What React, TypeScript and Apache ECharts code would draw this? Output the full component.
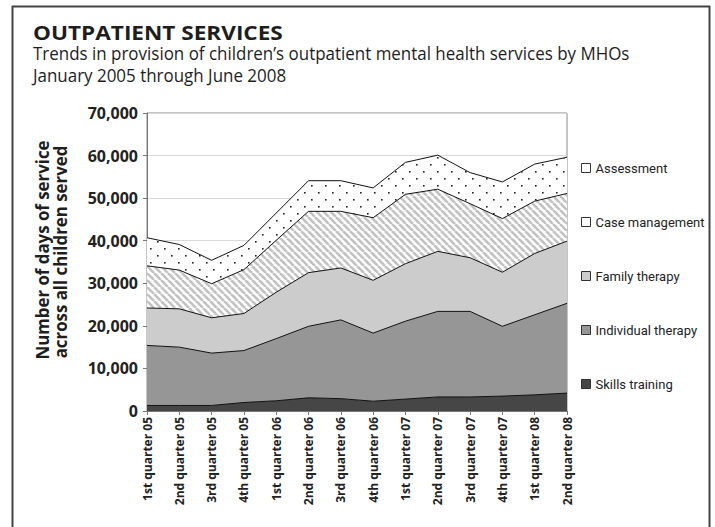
import React, { useEffect, useRef } from "react";
import * as echarts from "echarts";

const categories = [
  "1st quarter 05", "2nd quarter 05", "3rd quarter 05", "4th quarter 05",
  "1st quarter 06", "2nd quarter 06", "3rd quarter 06", "4th quarter 06",
  "1st quarter 07", "2nd quarter 07", "3rd quarter 07", "4th quarter 07",
  "1st quarter 08", "2nd quarter 08",
];
const skillsTraining = [1300, 1300, 1300, 2000, 2400, 3100, 2900, 2300, 2800, 3300, 3300, 3500, 3800, 4200];
const individualTherapy = [14100, 13700, 12300, 12200, 14600, 16800, 18500, 16000, 18300, 20100, 20100, 16400, 18800, 21100];
const familyTherapy = [8800, 9000, 8300, 8700, 10900, 12600, 12200, 12400, 13500, 14100, 12600, 12700, 14400, 14600];
const caseManagement = [9900, 9100, 8000, 10300, 12200, 14400, 13300, 14700, 16300, 14600, 12700, 12600, 12300, 11200];
const assessment = [6600, 6000, 5500, 5700, 6400, 7200, 7200, 7000, 7500, 8000, 7300, 8600, 8700, 8500];
const yTicks = { min: 0, max: 70000, interval: 10000 };

const TITLE = "OUTPATIENT SERVICES";
const SUB1 = "Trends in provision of children\u2019s outpatient mental health services by MHOs";
const SUB2 = "January 2005 through June 2008";
const YNAME1 = "Number of days of service";
const YNAME2 = "across all children served";

const FONT = '"Open Sans", "Noto Sans", sans-serif';

function measure(text: string, font: string): number {
  const c = document.createElement("canvas");
  const ctx = c.getContext("2d")!;
  ctx.font = font;
  return ctx.measureText(text).width;
}

function stripePattern() {
  const s = 7;
  const c = document.createElement("canvas");
  c.width = s;
  c.height = s;
  const ctx = c.getContext("2d")!;
  ctx.fillStyle = "#ffffff";
  ctx.fillRect(0, 0, s, s);
  ctx.strokeStyle = "#c2c2c2";
  ctx.lineWidth = 2.6;
  for (const k of [-s, 0, s]) {
    ctx.beginPath();
    ctx.moveTo(k, 0);
    ctx.lineTo(k + s, s);
    ctx.stroke();
  }
  return { image: c, repeat: "repeat", imageWidth: s, imageHeight: s };
}

function dotPattern() {
  const s = 14;
  const c = document.createElement("canvas");
  c.width = s;
  c.height = s;
  const ctx = c.getContext("2d")!;
  ctx.fillStyle = "#ffffff";
  ctx.fillRect(0, 0, s, s);
  ctx.fillStyle = "#222222";
  ctx.fillRect(3, 3, 1.6, 1.6);
  ctx.fillRect(10, 10, 1.6, 1.6);
  return { image: c, repeat: "repeat", imageWidth: s, imageHeight: s };
}

export default function App() {
  const ref = useRef<HTMLDivElement>(null);

  useEffect(() => {
    if (!ref.current) return;
    const chart = echarts.init(ref.current, undefined, { renderer: "svg" });

    const titleFont = `bold 20px ${FONT}`;
    const titleScale = 250 / measure(TITLE, titleFont);
    const subFont = `19px ${FONT}`;
    const subScale = 253 / measure(SUB2, subFont);
    const yNameFont = `bold 18px ${FONT}`;
    const yNameScale = 219 / measure(YNAME1, yNameFont);

    const mk = (name: string, data: number[], fill: any, z: number) => ({
      name,
      type: "line",
      stack: "total",
      data,
      z,
      symbol: "none",
      silent: true,
      lineStyle: { color: "#111111", width: 1 },
      areaStyle: { color: fill, opacity: 1 },
      itemStyle: { color: typeof fill === "string" ? fill : "#ffffff" },
      emphasis: { disabled: true },
    });

    const legendText = { fontFamily: "Roboto", fontSize: 13, color: "#222", lineHeight: 14 };
    const iconStyle = (c: string) => ({ color: c, borderColor: "#333", borderWidth: 1 });
    const frameLine = (x1: number, y1: number, x2: number, y2: number) => ({
      type: "line",
      z: 100,
      silent: true,
      shape: { x1, y1, x2, y2 },
      style: { stroke: "#444", lineWidth: 2 },
    });
    const txt = (x: number, y: number, text: string, font: string, sx: number, align: string, rot = 0) => ({
      type: "text",
      x,
      y,
      rotation: rot,
      scaleX: sx,
      style: {
        text,
        font,
        fill: "#1e1e1e",
        align,
        verticalAlign: "middle",
        textAlign: align,
        textVerticalAlign: "middle",
      },
    });

    chart.setOption({
      animation: false,
      backgroundColor: "#ffffff",
      grid: {
        left: 147,
        right: 148,
        top: 113,
        bottom: 116,
        show: true,
        borderColor: "#8a8a8a",
        borderWidth: 1,
      },
      legend: {
        orient: "vertical",
        left: 581,
        top: 161,
        padding: 0,
        itemGap: 40,
        itemWidth: 9,
        itemHeight: 9,
        icon: "rect",
        selectedMode: false,
        textStyle: legendText,
        data: [
          { name: "Assessment", itemStyle: iconStyle("#ffffff") },
          { name: "Case management", itemStyle: iconStyle("#ffffff") },
          { name: "Family therapy", itemStyle: iconStyle("#cccccc") },
          { name: "Individual therapy", itemStyle: iconStyle("#969696") },
          { name: "Skills training", itemStyle: iconStyle("#464646") },
        ],
      },
      xAxis: {
        type: "category",
        data: categories,
        boundaryGap: false,
        axisLine: { lineStyle: { color: "#777" } },
        axisTick: { show: true, length: 4, lineStyle: { color: "#777" } },
        axisLabel: {
          interval: 0,
          rotate: 90,
          margin: 6,
          fontFamily: FONT,
          fontWeight: "bold",
          fontSize: 12,
          color: "#222",
        },
      },
      yAxis: {
        type: "value",
        min: yTicks.min,
        max: yTicks.max,
        interval: yTicks.interval,
        axisLine: { show: true, lineStyle: { color: "#777" } },
        axisTick: { show: true, length: 4, lineStyle: { color: "#777" } },
        splitLine: { lineStyle: { color: "#d9d9d9" } },
        axisLabel: {
          margin: 9,
          fontFamily: FONT,
          fontWeight: "bold",
          fontSize: 16,
          color: "#222",
          formatter: (v: number) => v.toLocaleString("en-US"),
        },
      },
      series: [
        mk("Skills training", skillsTraining, "#464646", 7),
        mk("Individual therapy", individualTherapy, "#969696", 6),
        mk("Family therapy", familyTherapy, "#cccccc", 5),
        mk("Case management", caseManagement, stripePattern(), 4),
        mk("Assessment", assessment, dotPattern(), 3),
      ],
      graphic: [
        frameLine(12, 6.5, 710, 6.5),
        frameLine(12.5, 6, 12.5, 527),
        frameLine(709.5, 6, 709.5, 527),
        txt(33, 32, TITLE, titleFont, titleScale, "left"),
        txt(33, 53, SUB1, subFont, subScale, "left"),
        txt(33, 74.5, SUB2, subFont, subScale, "left"),
        txt(42, 250, YNAME1, yNameFont, yNameScale, "center", Math.PI / 2),
        txt(60, 252, YNAME2, yNameFont, yNameScale, "center", Math.PI / 2),
      ],
    });

    return () => chart.dispose();
  }, []);

  return (
    <div
      ref={ref}
      style={{ position: "absolute", left: 0, top: 0, width: 715, height: 527 }}
    />
  );
}
